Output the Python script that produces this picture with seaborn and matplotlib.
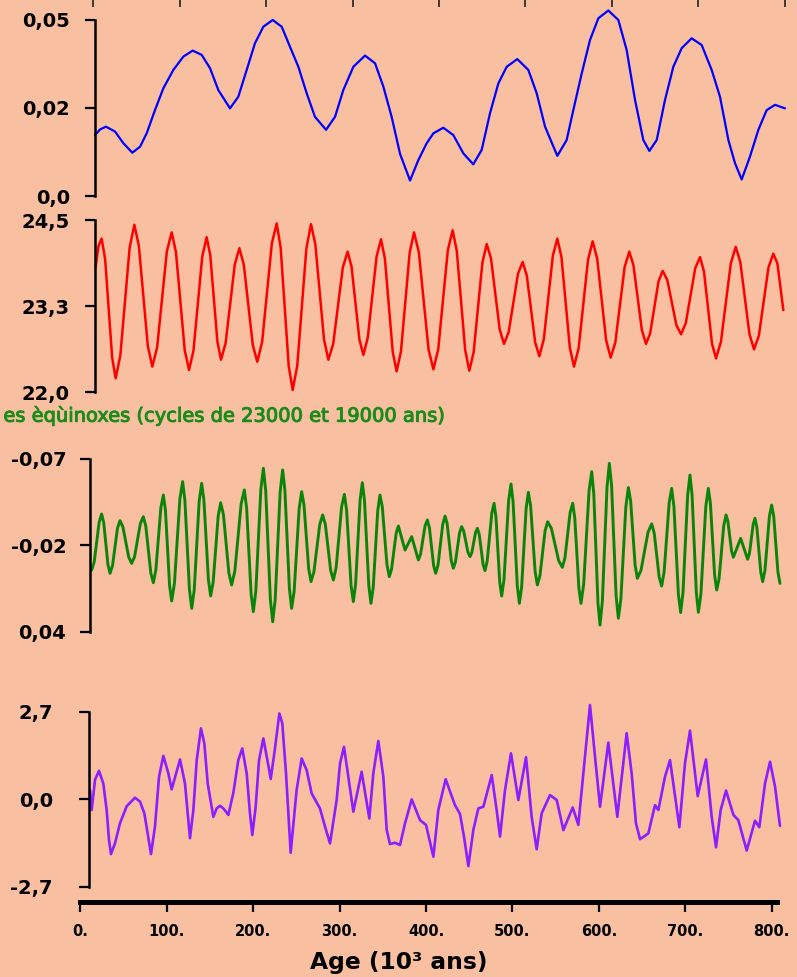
import matplotlib
matplotlib.use("Agg")
import matplotlib.pyplot as plt
import matplotlib.patheffects as pe
import seaborn as sns

# ages in kyr (10^3 ans)

# eccentricity (blue)
ecc_age = [17.0, 22.8, 29.7, 40.2, 49.8, 60.2, 69.1, 76.8, 86.4, 96.1, 107.6, 119.2, 130.0, 140.4,
           150.1, 159.7, 173.2, 182.8, 192.5, 202.1, 211.8, 222.6, 233.0, 242.6, 252.3, 261.9, 271.5,
           284.3, 294.7, 304.3, 315.9, 329.4, 341.0, 350.6, 360.2, 369.9, 381.5, 391.1, 400.8, 408.5,
           420.0, 431.6, 443.2, 454.7, 464.4, 474.0, 483.7, 493.3, 505.6, 518.4, 528.0, 537.7, 551.9,
           562.7, 570.4, 580.1, 589.7, 599.4, 610.9, 622.5, 632.1, 641.8, 651.4, 658.4, 666.9, 676.5,
           686.1, 695.8, 707.3, 718.9, 730.5, 740.1, 749.8, 757.5, 765.2, 774.8, 784.5, 794.1, 803.8, 815.3]
ecc_val = [0.0173, 0.0189, 0.0197, 0.0183, 0.0150, 0.0123, 0.0140, 0.0178, 0.0244, 0.0306, 0.0358,
           0.0396, 0.0413, 0.0401, 0.0363, 0.0301, 0.0249, 0.0282, 0.0358, 0.0434, 0.0481, 0.0500,
           0.0481, 0.0424, 0.0367, 0.0292, 0.0225, 0.0188, 0.0225, 0.0301, 0.0367, 0.0399, 0.0377,
           0.0311, 0.0225, 0.0120, 0.0044, 0.0102, 0.0150, 0.0178, 0.0194, 0.0173, 0.0121, 0.0090,
           0.0131, 0.0235, 0.0320, 0.0367, 0.0389, 0.0358, 0.0292, 0.0197, 0.0114, 0.0159, 0.0244,
           0.0348, 0.0443, 0.0505, 0.0527, 0.0500, 0.0415, 0.0273, 0.0159, 0.0128, 0.0159, 0.0273,
           0.0367, 0.0420, 0.0448, 0.0429, 0.0358, 0.0282, 0.0159, 0.0093, 0.0047, 0.0112, 0.0188,
           0.0244, 0.0259, 0.0249]

# obliquity (red), degrees
obl_age = [17.8, 21.0, 24.7, 28.75, 36.85, 40.9, 46.3, 57.1, 62.5, 67.7, 78.1, 83.3, 88.9, 100.1,
           105.7, 110.7, 120.8, 125.8, 130.9, 141.1, 146.2, 150.35, 158.65, 162.8, 168.1, 178.7, 184.0,
           189.2, 199.6, 204.8, 210.4, 221.6, 227.2, 231.8, 241.1, 245.7, 251.0, 261.6, 266.9, 271.9,
           282.0, 287.0, 292.6, 303.7, 309.3, 313.85, 322.95, 327.5, 332.6, 342.8, 347.9, 352.4, 361.5,
           366.0, 371.0, 381.1, 386.1, 391.7, 402.9, 408.5, 414.1, 425.2, 430.8, 435.6, 445.3, 450.1,
           455.1, 465.2, 470.2, 475.2, 485.2, 490.2, 495.6, 506.4, 511.8, 516.6, 526.3, 531.1, 536.3,
           546.7, 551.9, 556.7, 566.4, 571.2, 576.6, 587.4, 592.8, 598.0, 608.4, 613.6, 619.0, 629.8,
           635.2, 640.0, 649.7, 654.5, 659.3, 669.0, 673.8, 679.1, 689.7, 695.0, 700.5, 711.5, 717.0,
           721.6, 730.9, 735.5, 741.2, 752.6, 758.3, 763.6, 774.2, 779.5, 785.1, 796.2, 801.8, 806.5,
           813.4]
obl_val = [23.82, 24.12, 24.23, 23.93, 22.50, 22.20, 22.53, 24.10, 24.43, 24.13, 22.67, 22.37, 22.65,
           24.04, 24.32, 24.03, 22.61, 22.32, 22.60, 23.97, 24.25, 23.99, 22.73, 22.47, 22.71, 23.85,
           24.09, 23.85, 22.68, 22.44, 22.73, 24.16, 24.45, 24.10, 22.38, 22.03, 22.38, 24.09, 24.44,
           24.15, 22.76, 22.47, 22.70, 23.81, 24.04, 23.82, 22.76, 22.54, 22.79, 23.97, 24.22, 23.94,
           22.58, 22.30, 22.59, 24.03, 24.32, 24.03, 22.62, 22.33, 22.62, 24.06, 24.35, 24.05, 22.61,
           22.31, 22.58, 23.88, 24.15, 23.94, 22.91, 22.70, 22.87, 23.72, 23.89, 23.69, 22.72, 22.52,
           22.77, 23.98, 24.23, 23.96, 22.64, 22.37, 22.64, 23.92, 24.19, 23.94, 22.75, 22.50, 22.72,
           23.82, 24.04, 23.84, 22.90, 22.70, 22.85, 23.61, 23.76, 23.63, 22.97, 22.84, 23.00, 23.80,
           23.96, 23.75, 22.70, 22.49, 22.73, 23.87, 24.11, 23.89, 22.84, 22.62, 22.82, 23.81, 24.01,
           23.87, 23.19]

# precession (green)
prec_age = [13.2, 16.1, 21.8, 24.7, 27.1, 32.0, 34.4, 37.3, 43.0, 45.9,
            49.3, 56.0, 59.4, 62.8, 69.5, 72.9, 75.8, 81.6, 84.5, 87.4,
            93.2, 96.1, 98.5, 103.3, 105.7, 108.9, 115.2, 118.4, 121.0, 126.3,
            128.9, 131.8, 137.5, 140.4, 143.0, 148.2, 150.8, 153.7, 159.5, 162.4,
            165.6, 171.9, 175.1, 178.8, 186.1, 189.8, 192.4, 197.6, 200.2, 203.1,
            208.9, 211.8, 214.5, 219.9, 222.6, 225.5, 231.2, 234.1, 236.7, 241.9,
            244.5, 247.4, 253.2, 256.1, 258.8, 264.2, 266.9, 270.3, 277.0, 280.4,
            283.5, 289.7, 292.8, 296.0, 302.3, 305.5, 308.1, 313.3, 315.9, 318.5,
            323.7, 326.3, 328.8, 333.8, 336.3, 338.9, 344.1, 346.7, 349.4, 354.8,
            357.5, 360.1, 365.4, 368.0, 375.7, 383.4, 391.1, 393.7, 398.9, 401.5,
            403.9, 408.8, 411.2, 413.9, 419.3, 422.0, 424.4, 429.2, 431.6, 434.0,
            438.8, 441.2, 443.6, 448.5, 450.9, 453.0, 457.3, 459.4, 461.6, 466.0,
            468.2, 470.8, 476.1, 478.7, 480.9, 485.3, 487.5, 490.2, 495.6, 498.3,
            500.7, 505.6, 508.0, 510.6, 515.8, 518.4, 521.0, 526.2, 528.8, 531.8,
            537.7, 540.7, 545.0, 553.5, 557.7, 560.7, 566.7, 569.7, 572.1, 576.9,
            579.3, 582.4, 588.6, 591.7, 594.1, 598.9, 601.3, 604.0, 609.4, 612.1,
            614.7, 619.9, 622.5, 625.4, 631.2, 634.1, 636.7, 641.9, 644.5, 648.7,
            656.9, 661.1, 664.0, 669.7, 672.6, 675.5, 681.3, 684.2, 686.8, 692.0,
            694.6, 697.3, 702.7, 705.4, 707.8, 712.7, 715.1, 718.0, 723.7, 726.6,
            729.0, 733.9, 736.3, 739.0, 744.4, 747.1, 749.2, 753.5, 755.6, 764.0,
            772.1, 774.2, 778.5, 780.6, 782.8, 787.3, 789.5, 792.1, 797.3, 799.9,
            802.3, 807.1, 809.5]
prec_val = [0.0006, -0.0046, -0.0298, -0.0350, -0.0295, -0.0028, 0.0027, -0.0022, -0.0259, -0.0308,
            -0.0268, -0.0076, -0.0036, -0.0079, -0.0290, -0.0333, -0.0272, 0.0026, 0.0087, 0.0006,
            -0.0390, -0.0471, -0.0373, 0.0105, 0.0203, 0.0092, -0.0445, -0.0556, -0.0438, 0.0132,
            0.0250, 0.0134, -0.0429, -0.0545, -0.0440, 0.0066, 0.0171, 0.0084, -0.0335, -0.0422,
            -0.0346, 0.0025, 0.0101, 0.0013, -0.0415, -0.0503, -0.0390, 0.0158, 0.0271, 0.0138,
            -0.0508, -0.0641, -0.0499, 0.0193, 0.0335, 0.0194, -0.0489, -0.0630, -0.0502, 0.0122,
            0.0250, 0.0142, -0.0384, -0.0492, -0.0408, -0.0004, 0.0080, 0.0018, -0.0282, -0.0344,
            -0.0284, 0.0010, 0.0070, -0.0010, -0.0395, -0.0475, -0.0375, 0.0107, 0.0207, 0.0097,
            -0.0439, -0.0549, -0.0437, 0.0106, 0.0218, 0.0117, -0.0370, -0.0471, -0.0395, -0.0028,
            0.0048, 0.0001, -0.0227, -0.0274, -0.0121, -0.0206, -0.0058, -0.0095, -0.0275, -0.0312,
            -0.0263, -0.0022, 0.0027, -0.0026, -0.0284, -0.0337, -0.0289, -0.0053, -0.0005, -0.0044,
            -0.0231, -0.0270, -0.0242, -0.0107, -0.0079, -0.0105, -0.0233, -0.0259, -0.0220, -0.0029,
            0.0010, -0.0052, -0.0356, -0.0418, -0.0332, 0.0085, 0.0171, 0.0067, -0.0437, -0.0541,
            -0.0430, 0.0107, 0.0218, 0.0115, -0.0385, -0.0488, -0.0402, 0.0015, 0.0101, 0.0042,
            -0.0242, -0.0301, -0.0259, -0.0053, -0.0011, -0.0070, -0.0359, -0.0418, -0.0325, 0.0125,
            0.0218, 0.0096, -0.0497, -0.0619, -0.0477, 0.0214, 0.0356, 0.0206, -0.0522, -0.0672,
            -0.0528, 0.0169, 0.0313, 0.0192, -0.0397, -0.0518, -0.0434, -0.0025, 0.0059, 0.0008,
            -0.0236, -0.0287, -0.0229, 0.0050, 0.0108, 0.0017, -0.0422, -0.0513, -0.0398, 0.0162,
            0.0277, 0.0149, -0.0470, -0.0598, -0.0471, 0.0148, 0.0275, 0.0160, -0.0398, -0.0513,
            -0.0419, 0.0039, 0.0133, 0.0063, -0.0274, -0.0344, -0.0305, -0.0114, -0.0075, -0.0195,
            -0.0062, -0.0100, -0.0285, -0.0323, -0.0264, 0.0021, 0.0080, 0.0009, -0.0336, -0.0407,
            -0.0334, 0.0018, 0.0091]

# climate index (purple)
clim_age = [11.2, 13.2, 17.0, 21.6, 26.6, 30.5, 33.2, 35.5, 40.1, 45.9, 53.7, 63.3, 69.1, 74.1, 77.9,
            81.8, 86.4, 91.1, 96.1, 101.9, 105.7, 115.4, 121.1, 125.0, 126.9, 130.8, 134.7, 139.6,
            143.5, 147.4, 153.9, 157.8, 161.6, 165.5, 171.3, 177.0, 182.8, 187.4, 192.5, 196.3, 199.0,
            202.9, 206.8, 211.8, 216.8, 220.3, 224.5, 230.3, 233.7, 238.0, 243.4, 250.3, 256.1, 261.9,
            267.7, 277.3, 283.1, 288.9, 296.6, 300.5, 305.1, 310.1, 315.9, 325.5, 334.4, 339.0, 344.8,
            350.6, 354.5, 358.3, 364.1, 369.9, 375.7, 383.4, 393.0, 400.0, 408.5, 414.2, 422.7, 433.5,
            439.3, 443.9, 449.0, 454.7, 460.5, 466.3, 476.0, 481.7, 485.6, 491.4, 498.3, 506.8, 515.7,
            522.2, 528.0, 533.8, 543.4, 551.2, 558.9, 569.7, 576.2, 582.0, 589.7, 595.5, 601.3, 610.9,
            621.3, 632.1, 637.9, 642.9, 647.6, 657.2, 664.9, 668.8, 676.5, 682.3, 693.1, 699.6, 705.4,
            714.3, 723.9, 730.5, 735.5, 740.9, 747.1, 755.6, 761.3, 771.0, 780.6, 785.6, 792.2, 798.0,
            803.8, 809.5]
clim_val = [0.28, -0.34, 0.59, 0.87, 0.48, -0.34, -1.27, -1.70, -1.37, -0.75, -0.22, 0.04, -0.08,
            -0.44, -1.06, -1.70, -0.85, 0.69, 1.33, 0.79, 0.30, 1.22, 0.48, -0.65, -1.21, -0.34, 1.20,
            2.18, 1.72, 0.48, -0.55, -0.29, -0.21, -0.29, -0.49, 0.18, 1.20, 1.56, 0.79, -0.44, -1.11,
            -0.24, 1.20, 1.87, 1.15, 0.62, 1.41, 2.64, 2.34, 0.79, -1.66, 0.28, 1.25, 0.89, 0.17, -0.29,
            -0.85, -1.37, -0.03, 1.10, 1.61, 0.69, -0.39, 0.84, -0.60, 0.79, 1.79, 0.69, -0.96, -1.39,
            -1.35, -1.42, -0.75, -0.01, -0.65, -0.80, -1.78, -0.34, 0.61, -0.19, -0.46, -1.16, -2.07,
            -0.96, -0.29, -0.24, 0.74, -0.34, -1.16, 0.28, 1.41, -0.03, 1.29, -0.55, -1.55, -0.44, 0.12,
            -0.03, -0.96, -0.26, -0.80, 0.79, 2.90, 1.31, -0.24, 1.74, -0.55, 2.03, 0.79, -0.75, -1.24,
            -1.06, -0.19, -0.34, 0.69, 1.20, -0.87, 1.10, 2.11, 0.09, 1.22, -0.55, -1.49, -0.34, 0.26,
            -0.49, -0.65, -1.59, -0.67, -0.87, 0.48, 1.15, 0.38, -0.83]

ecc_ticks = [0.0, 0.025, 0.05]
ecc_labels = ["0,0", "0,02", "0,05"]
obl_ticks = [22.0, 23.25, 24.5]
obl_labels = ["22,0", "23,3", "24,5"]
prec_ticks = [-0.07, -0.015, 0.04]
prec_labels = ["-0,07", "-0,02", "0,04"]
clim_ticks = [-2.7, 0.0, 2.7]
clim_labels = ["-2,7", "0,0", "2,7"]

age_ticks = [0, 100, 200, 300, 400, 500, 600, 700, 800]
age_labels = ["0.", "100.", "200.", "300.", "400.", "500.", "600.", "700.", "800."]

title_prec = "es èqùinoxes (cycles de 23000 et 19000 ans)"

bg = "#F8BFA0"
sns.set_theme(style="ticks", rc={"axes.facecolor": bg, "figure.facecolor": bg})
plt.rcParams["font.family"] = ["DejaVu Sans"]

fig = plt.figure(figsize=(7.97, 9.77), dpi=100)
W, H = 797.0, 977.0


def box(ytop, ybot):
    # pixel rows -> figure fraction
    return [80.3 / W, 1 - ybot / H, (790 - 80.3) / W, (ybot - ytop) / H]


panels = [
    (ecc_age, ecc_val, "#0000FF", 1.6, box(0, 200), (-0.001136, 0.05568), ecc_ticks, ecc_labels, 17.0, 11),
    (obl_age, obl_val, "#FF0000", 1.8, box(205, 402), (21.855, 24.718), obl_ticks, obl_labels, 17.0, 11),
    (prec_age, prec_val, "#0A850A", 2.1, box(450, 640), (0.0451, -0.0757), prec_ticks, prec_labels, 11.2, 10),
    (clim_age, clim_val, "#8C1EFF", 1.9, box(700, 902), (-3.178, 3.055), clim_ticks, clim_labels, 10.0, 19),
]

axes = []
for age, val, col, lw, pos, ylim, ticks, labels, spine_x, pad in panels:
    ax = fig.add_axes(pos)
    ax.patch.set_alpha(0)
    sns.lineplot(x=age, y=val, ax=ax, color=col, lw=lw)
    ax.set_xlim(0, 821.1)
    ax.set_ylim(*ylim)
    ax.set_xlabel("")
    ax.set_ylabel("")
    ax.set_yticks(ticks, labels)
    for s in ["top", "right", "bottom"]:
        ax.spines[s].set_visible(False)
    ax.spines["left"].set_position(("data", spine_x))
    ax.spines["left"].set_bounds(min(ticks), max(ticks))
    ax.spines["left"].set_linewidth(1.8)
    ax.spines["left"].set_color("black")
    ax.tick_params(axis="y", length=7, width=1.6, pad=pad, labelsize=14, colors="black")
    for lab in ax.get_yticklabels():
        lab.set_fontweight("bold")
    ax.set_xticks([])
    axes.append(ax)

# small ticks along the top edge
top = axes[0].secondary_xaxis("top", functions=(lambda a: a - 15, lambda a: a + 15))
top.set_xticks(age_ticks)
top.tick_params(direction="in", length=5, width=1.2, labeltop=False, colors="#222222")
for s in top.spines.values():
    s.set_visible(False)

# age axis on the last panel
ax4 = axes[-1]
ax4.spines["bottom"].set_visible(True)
ax4.spines["bottom"].set_bounds(0, 806)
ax4.spines["bottom"].set_linewidth(3.6)
ax4.spines["bottom"].set_color("black")
ax4.set_xticks(age_ticks, age_labels)
ax4.tick_params(axis="x", length=7, width=1.6, pad=9, labelsize=10.5, colors="black")
for lab in ax4.get_xticklabels():
    lab.set_fontweight("bold")

fig.text(399 / W, 1 - 969 / H, "Age (10³ ans)", ha="center", va="baseline",
         fontsize=16.8, fontweight="bold", color="black")

fig.text(445 / W, 1 - 421.7 / H, title_prec, ha="right", va="baseline", fontsize=14,
         color="#1A8C1A", path_effects=[pe.withStroke(linewidth=0.7, foreground="#1A8C1A")])

fig.savefig("out.png", dpi=100, facecolor=bg)
